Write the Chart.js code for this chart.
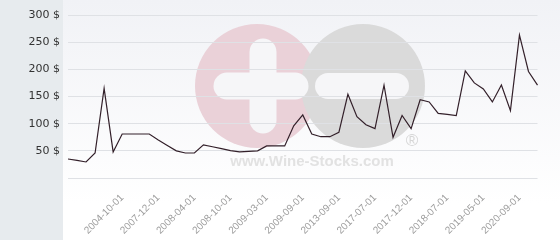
<!DOCTYPE html>
<html>
<head>
<meta charset="utf-8">
<script src="https://cdn.jsdelivr.net/npm/chart.js@4/dist/chart.umd.min.js"></script>
<style>
  body { margin: 0; background: #fff; }
  #wrap { width: 560px; height: 240px; }
</style>
</head>
<body>
<div id="wrap"><canvas id="priceChart" width="560" height="240"></canvas></div>
<script>
// x categories, only every 4th one carries a visible date
const categories = [
  '', '', '', '', '', '', '2004-10-01', '', '', '', '2007-12-01', '', '', '',
  '2008-04-01', '', '', '', '2008-10-01', '', '', '', '2009-03-01', '', '', '',
  '2009-09-01', '', '', '', '2013-09-01', '', '', '', '2017-07-01', '', '', '',
  '2017-12-01', '', '', '', '2018-07-01', '', '', '', '2019-05-01', '', '', '',
  '2020-09-01', '', ''
];
const prices = [
  35, 32.5, 29.5, 46, 165, 48, 81, 81, 81, 81, 70, 60, 50, 46, 46, 61, 57.5, 54,
  50.5, 48, 49, 50, 59, 59, 59, 96, 116, 81, 76, 76, 84, 154, 113, 98, 91, 171,
  75, 115, 91, 144, 140, 119, 117, 115, 197, 175, 164, 140, 171, 124, 263, 196, 171
];
const yTicks = [0, 50, 100, 150, 200, 250, 300];

// background panel + wine-stocks watermark
const backdrop = {
  id: 'backdrop',
  beforeDraw(chart) {
    const ctx = chart.ctx;
    const w = chart.width, h = chart.height;
    ctx.save();
    const g = ctx.createLinearGradient(0, 0, 0, h);
    g.addColorStop(0, '#f1f2f6');
    g.addColorStop(0.85, '#ffffff');
    ctx.fillStyle = g;
    ctx.fillRect(0, 0, w, h);
    ctx.fillStyle = '#e7ebee';
    ctx.fillRect(0, 0, 63, h);

    ctx.fillStyle = '#ead1d8';
    ctx.beginPath(); ctx.arc(257, 86, 62, 0, Math.PI * 2); ctx.fill();
    ctx.fillStyle = '#dadada';
    ctx.beginPath(); ctx.arc(363, 86, 62, 0, Math.PI * 2); ctx.fill();

    ctx.strokeStyle = '#f6f6f8';
    ctx.lineCap = 'round';
    ctx.lineWidth = 27;
    ctx.beginPath(); ctx.moveTo(263, 52); ctx.lineTo(263, 120); ctx.stroke();
    ctx.beginPath(); ctx.moveTo(227, 86); ctx.lineTo(295, 86); ctx.stroke();
    ctx.lineWidth = 26;
    ctx.beginPath(); ctx.moveTo(328, 86); ctx.lineTo(396, 86); ctx.stroke();

    ctx.fillStyle = '#e2e2e2';
    ctx.font = 'bold 15px "Liberation Sans", Arial, sans-serif';
    ctx.textAlign = 'center';
    ctx.textBaseline = 'alphabetic';
    ctx.fillText('www.Wine-Stocks.com', 312, 166);
    ctx.fillStyle = '#d6d6d6';
    ctx.font = '17px "Liberation Sans", Arial, sans-serif';
    ctx.fillText('®', 412, 146);
    ctx.restore();
  }
};

const ctx = document.getElementById('priceChart').getContext('2d');
const myChart = new Chart(ctx, {
  type: 'line',
  data: {
    labels: categories,
    datasets: [{
      data: prices,
      borderColor: '#33202a',
      borderWidth: 1.2,
      pointRadius: 0,
      tension: 0,
      fill: false
    }]
  },
  options: {
    responsive: false,
    animation: false,
    layout: { padding: { top: 15, right: 5, left: 0, bottom: 0 } },
    plugins: { legend: { display: false }, tooltip: { enabled: false } },
    scales: {
      x: {
        offset: false,
        grid: { display: false, drawTicks: false },
        border: { display: false },
        ticks: {
          autoSkip: false,
          minRotation: 45,
          maxRotation: 45,
          padding: 14,
          color: '#9c9c9c',
          font: { family: '"Liberation Sans", Arial, sans-serif', size: 10 }
        },
        afterFit(scale) { scale.height = 62; }
      },
      y: {
        min: yTicks[0],
        max: yTicks[yTicks.length - 1],
        afterBuildTicks(scale) { scale.ticks = yTicks.map(v => ({ value: v })); },
        grid: { color: '#dfe1e5', drawTicks: false },
        border: { display: false },
        ticks: {
          padding: 8,
          color: '#333',
          font: { family: '"DejaVu Sans", sans-serif', size: 11 },
          callback: (v) => v === 0 ? '' : v + ' $'
        },
        afterFit(scale) { scale.width = 68; }
      }
    }
  },
  plugins: [backdrop]
});
</script>
</body>
</html>
